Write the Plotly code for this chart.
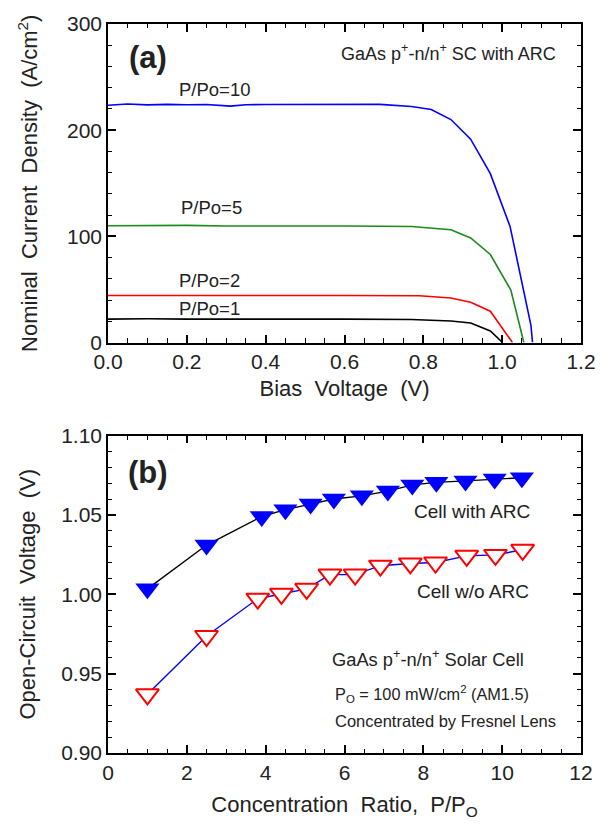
import plotly.graph_objects as go

# ---------------- Panel (a) data: J-V curves ----------------
v_p1 = [0.0, 0.1, 0.2, 0.3, 0.4, 0.5, 0.6, 0.7, 0.77, 0.87, 0.92, 0.97, 1.001]
j_p1 = [22.0, 22.4, 22.0, 22.2, 22.2, 22.0, 22.0, 21.8, 21.7, 20.2, 18.3, 10.9, 0.0]

v_p2 = [0.0, 0.1, 0.2, 0.3, 0.4, 0.5, 0.6, 0.7, 0.79, 0.87, 0.92, 0.97, 1.026]
j_p2 = [44.3, 44.4, 44.2, 44.3, 44.2, 44.2, 44.2, 44.1, 44.1, 41.9, 37.9, 29.5, 0.0]

v_p5 = [0.0, 0.1, 0.2, 0.3, 0.4, 0.5, 0.6, 0.69, 0.77, 0.87, 0.92, 0.97, 1.022, 1.055]
j_p5 = [110.0, 110.5, 110.3, 109.8, 110.0, 109.6, 109.8, 109.5, 109.3, 106.2, 98.5, 82.9, 49.4, 0.0]

v_p10 = [0.0, 0.05, 0.1, 0.15, 0.2, 0.25, 0.31, 0.35, 0.4, 0.5, 0.6, 0.69, 0.77, 0.82, 0.87, 0.92, 0.97, 1.02, 1.073, 1.077]
j_p10 = [223.5, 224.6, 223.8, 224.3, 224.0, 224.2, 222.6, 224.0, 224.2, 224.0, 224.0, 224.3, 222.3, 219.5, 210.0, 191.5, 159.0, 109.4, 16.1, 0.0]

# ---------------- Panel (b) data: Voc vs concentration ----------------
ratio_arc = [1.0, 2.5, 3.9, 4.5, 5.14, 5.73, 6.44, 7.1, 7.72, 8.33, 9.07, 9.81, 10.5]
voc_arc = [1.0034, 1.031, 1.049, 1.0533, 1.0568, 1.060, 1.062, 1.065, 1.0689, 1.0705, 1.0714, 1.0726, 1.0734]

ratio_noarc = [1.0, 2.5, 3.8, 4.4, 5.04, 5.63, 6.27, 6.91, 7.67, 8.31, 9.1, 9.83, 10.52]
voc_noarc = [0.937, 0.9737, 0.9972, 1.0003, 1.0034, 1.0124, 1.0124, 1.018, 1.0194, 1.020, 1.0242, 1.0248, 1.028]

FONT = "Arial, Liberation Sans, sans-serif"
NB = "\u00a0 "

fig = go.Figure()

for v, j, c in [(v_p1, j_p1, "black"), (v_p2, j_p2, "#ff0000"),
                (v_p5, j_p5, "#1a8a1a"), (v_p10, j_p10, "#0000ff")]:
    fig.add_trace(go.Scatter(x=v, y=j, mode="lines", line=dict(color=c, width=1.6),
                             xaxis="x", yaxis="y", showlegend=False))

fig.add_trace(go.Scatter(x=ratio_arc, y=voc_arc, mode="lines+markers",
                         line=dict(color="black", width=1.4),
                         marker=dict(symbol="triangle-down", size=21, color="#0000ff",
                                     line=dict(width=0)),
                         xaxis="x2", yaxis="y2", showlegend=False))
fig.add_trace(go.Scatter(x=ratio_noarc, y=voc_noarc, mode="lines+markers",
                         line=dict(color="#0000ff", width=1.4),
                         marker=dict(symbol="triangle-down", size=20, color="white",
                                     line=dict(width=2, color="#ff0000")),
                         xaxis="x2", yaxis="y2", showlegend=False))

common = dict(showline=True, linecolor="black", linewidth=1.5, mirror="ticks",
              ticks="inside", ticklen=8, tickwidth=1.5, tickcolor="black",
              showgrid=False, zeroline=False,
              tickfont=dict(family=FONT, size=21, color="#222"))

fig.update_layout(
    width=608, height=825,
    margin=dict(l=108, r=26, t=17, b=71),
    paper_bgcolor="white", plot_bgcolor="white",
    font=dict(family=FONT, color="#222"),
    xaxis=dict(common, domain=[0, 1], anchor="y", range=[0, 1.2], dtick=0.2,
               tickformat=".1f",
               minor=dict(ticks="inside", ticklen=4.5, tickwidth=1.3, dtick=0.05, tickcolor="black"),
               title=dict(text="Bias" + NB + "Voltage" + NB + "(V)",
                          font=dict(family=FONT, size=22, color="#222"), standoff=8)),
    yaxis=dict(common, domain=[0.5631, 1], anchor="x", range=[0, 300], dtick=100,
               minor=dict(ticks="inside", ticklen=4.5, tickwidth=1.3, dtick=20, tickcolor="black"),
               title=dict(text="Nominal" + NB + "Current" + NB + "Density" + NB + "(A/cm<sup>2</sup>)",
                          font=dict(family=FONT, size=22, color="#222"), standoff=23)),
    xaxis2=dict(common, domain=[0, 1], anchor="y2", range=[0, 12], dtick=2,
                minor=dict(ticks="inside", ticklen=4.5, tickwidth=1.3, dtick=0.5, tickcolor="black"),
                title=dict(text="Concentration" + NB + "Ratio," + NB + "P/P<sub>O</sub>",
                           font=dict(family=FONT, size=22, color="#222"), standoff=14)),
    yaxis2=dict(common, domain=[0, 0.4355], anchor="x2", range=[0.90, 1.10], dtick=0.05,
                tickformat=".2f",
                minor=dict(ticks="inside", ticklen=4.5, tickwidth=1.3, dtick=0.01, tickcolor="black"),
                title=dict(text="Open-Circuit" + NB + "Voltage" + NB + "(V)",
                           font=dict(family=FONT, size=22, color="#222"), standoff=19)),
)

def ann(text, x, y, xr, yr, size, xanchor="center", bold=False):
    fig.add_annotation(text=("<b>%s</b>" % text) if bold else text, x=x, y=y,
                       xref=xr, yref=yr, showarrow=False, xanchor=xanchor, yanchor="middle",
                       font=dict(family=FONT, size=size, color="#222"))

ann("(a)", 0.101, 268, "x", "y", 31, bold=True)
ann("GaAs p<sup>+</sup>-n/n<sup>+</sup> SC with ARC", 0.863, 273, "x", "y", 18)
ann("P/Po=10", 0.271, 238.5, "x", "y", 18.5)
ann("P/Po=5", 0.263, 126.7, "x", "y", 18.5)
ann("P/Po=2", 0.258, 58.7, "x", "y", 18.5)
ann("P/Po=1", 0.258, 31.7, "x", "y", 18.5)

ann("(b)", 1.01, 1.077, "x2", "y2", 31, bold=True)
ann("Cell with ARC", 9.24, 1.052, "x2", "y2", 19)
ann("Cell w/o ARC", 9.27, 1.0016, "x2", "y2", 19)
ann("GaAs p<sup>+</sup>-n/n<sup>+</sup> Solar Cell", 8.13, 0.9598, "x2", "y2", 18.3)
ann("P<sub>O</sub> = 100 mW/cm<sup>2</sup> (AM1.5)", 5.70, 0.9374, "x2", "y2", 16.3, xanchor="left")
ann("Concentrated by Fresnel Lens", 5.70, 0.920, "x2", "y2", 16.5, xanchor="left")

fig.write_html("out.html")
